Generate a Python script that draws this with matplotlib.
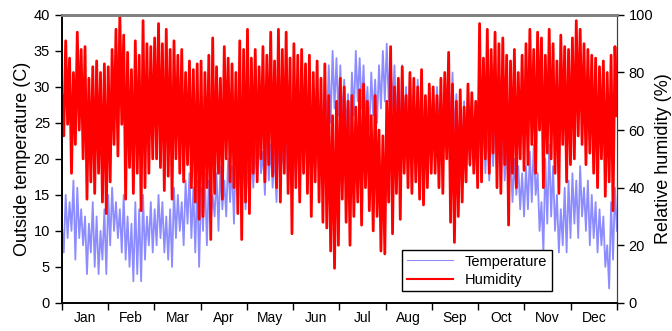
import numpy as np
import matplotlib
matplotlib.use('Agg')
import matplotlib.pyplot as plt

plt.rcParams['font.family'] = ['Liberation Sans', 'DejaVu Sans']

months = ['Jan', 'Feb', 'Mar', 'Apr', 'May', 'Jun',
          'Jul', 'Aug', 'Sep', 'Oct', 'Nov', 'Dec']

# outside temperature (C), high / low swings, 12 per month
temp_hi = [11, 15, 14, 17, 16, 13, 12, 11, 14, 12, 10, 13,
           15, 16, 14, 13, 15, 12, 11, 14, 13, 15, 12, 14,
           13, 15, 14, 12, 13, 16, 15, 14, 17, 18, 16, 17,
           16, 18, 17, 15, 18, 19, 17, 20, 19, 21, 20, 22,
           20, 21, 22, 23, 21, 24, 22, 21, 23, 22, 24, 25,
           25, 27, 24, 26, 28, 27, 25, 29, 31, 33, 35, 34,
           33, 31, 29, 32, 35, 34, 33, 30, 32, 31, 33, 35,
           36, 35, 33, 31, 33, 30, 32, 29, 31, 30, 28, 30,
           29, 30, 28, 31, 33, 32, 29, 27, 28, 26, 27, 25,
           26, 27, 25, 24, 26, 23, 24, 22, 21, 20, 19, 18,
           19, 21, 22, 18, 14, 20, 22, 19, 15, 13, 16, 17,
           18, 17, 19, 16, 17, 15, 14, 13, 12, 8, 14, 16]
temp_lo = [7, 9, 10, 6, 9, 8, 4, 7, 5, 4, 6, 4,
           8, 10, 9, 7, 6, 5, 3, 4, 3, 6, 8, 7,
           8, 9, 7, 6, 5, 9, 10, 8, 11, 9, 7, 5,
           10, 8, 11, 12, 10, 13, 12, 14, 11, 15, 14, 13,
           14, 16, 17, 18, 15, 17, 16, 14, 17, 18, 16, 19,
           17, 15, 18, 20, 19, 21, 20, 22, 24, 25, 27, 26,
           25, 24, 23, 26, 28, 27, 25, 24, 26, 25, 27, 28,
           28, 27, 25, 23, 24, 22, 25, 23, 24, 22, 23, 24,
           22, 23, 21, 22, 24, 23, 21, 20, 21, 19, 20, 18,
           19, 18, 17, 19, 18, 16, 17, 15, 14, 15, 13, 12,
           13, 14, 15, 10, 7, 11, 12, 10, 7, 8, 7, 9,
           11, 9, 12, 10, 8, 9, 7, 8, 5, 2, 6, 10]

# relative humidity (%), high / low swings, 12 per month
hum_hi = [72, 91, 85, 80, 94, 88, 89, 78, 82, 84, 80, 83,
          82, 88, 95, 100, 93, 87, 81, 91, 86, 98, 90, 89,
          92, 97, 90, 95, 88, 91, 86, 88, 80, 84, 81, 83,
          84, 80, 86, 92, 82, 78, 89, 85, 83, 80, 91, 88,
          95, 85, 88, 82, 89, 86, 94, 84, 95, 88, 94, 85,
          90, 86, 88, 83, 86, 80, 84, 78, 83, 72, 65, 70,
          78, 75, 70, 72, 68, 74, 76, 70, 65, 72, 60, 58,
          70, 89, 75, 78, 82, 72, 80, 78, 75, 81, 72, 76,
          75, 72, 78, 80, 87, 76, 70, 74, 68, 76, 73, 70,
          97, 85, 95, 88, 94, 90, 92, 86, 84, 88, 80, 86,
          90, 95, 88, 94, 92, 86, 95, 90, 84, 93, 89, 88,
          92, 98, 95, 90, 88, 86, 85, 82, 84, 80, 86, 89]
hum_lo = [58, 62, 45, 55, 60, 50, 36, 42, 38, 45, 35, 31,
          42, 55, 51, 62, 36, 47, 38, 45, 32, 40, 45, 50,
          50, 47, 39, 44, 36, 50, 45, 42, 48, 40, 35, 29,
          30, 40, 22, 38, 45, 36, 50, 42, 40, 31, 22, 35,
          31, 45, 42, 50, 42, 48, 44, 40, 35, 45, 38, 24,
          40, 35, 45, 38, 30, 42, 35, 28, 26, 18, 12, 20,
          36, 28, 20, 30, 35, 27, 40, 32, 25, 30, 18, 17,
          35, 24, 38, 29, 45, 40, 38, 42, 36, 34, 40, 45,
          45, 40, 38, 50, 28, 21, 30, 35, 42, 48, 45, 40,
          42, 50, 45, 52, 40, 38, 48, 27, 45, 40, 50, 46,
          48, 55, 45, 60, 40, 52, 50, 45, 38, 55, 42, 48,
          50, 58, 55, 48, 52, 45, 40, 50, 37, 42, 32, 65]

# interleave highs and lows into one trace each
temp = np.column_stack([temp_hi, temp_lo]).ravel()
hum = np.column_stack([hum_hi, hum_lo]).ravel()
x = np.linspace(0, 12, len(temp))

fig = plt.figure(figsize=(6.72, 3.31), dpi=100)
ax = fig.add_axes([0.092, 0.085, 0.826, 0.87])
l1, = ax.plot(x, temp, color='blue', alpha=0.45, lw=1.3, label='Temperature')
ax.set_ylim(0, 40)
ax.set_xlim(0, 12)
ax.set_yticks(range(0, 41, 5))
ax.set_ylabel('Outside temperature (C)', fontsize=13, labelpad=2)

ax2 = ax.twinx()
l2, = ax2.plot(x, hum, color='red', lw=2.0, label='Humidity')
ax2.set_ylim(0, 100)
ax2.set_yticks(range(0, 101, 20))
ax2.set_ylabel('Relative humidity (%)', fontsize=13, labelpad=1)

ax.set_xticks(range(13))
ax.set_xticklabels([])
ax.set_xticks(np.arange(12) + 0.5, minor=True)
ax.set_xticklabels(months, minor=True)
ax.tick_params(axis='x', which='minor', length=0, pad=6)
ax.tick_params(axis='x', which='major', length=5, width=1)
ax.tick_params(axis='both', labelsize=10.5)
ax2.tick_params(axis='y', labelsize=10.5, length=5, width=1)
ax.tick_params(axis='y', length=5, width=1)

for a in (ax, ax2):
    a.spines['top'].set_color('#808080')
    a.spines['top'].set_linewidth(2)
    a.spines['left'].set_linewidth(1.2)
    a.spines['bottom'].set_linewidth(1.2)
    a.spines['right'].set_color('#404040')

leg = ax2.legend(handles=[l1, l2], loc='lower left', bbox_to_anchor=(0.6, 0.015),
                 fontsize=10.5, fancybox=False, edgecolor='black', framealpha=1,
                 handlelength=3.2, borderpad=0.3, labelspacing=0.3)
leg.get_frame().set_linewidth(1.0)
leg.legend_handles[0].set_linewidth(0.8)
leg.legend_handles[1].set_linewidth(1.5)

fig.savefig('out.png', dpi=100)
